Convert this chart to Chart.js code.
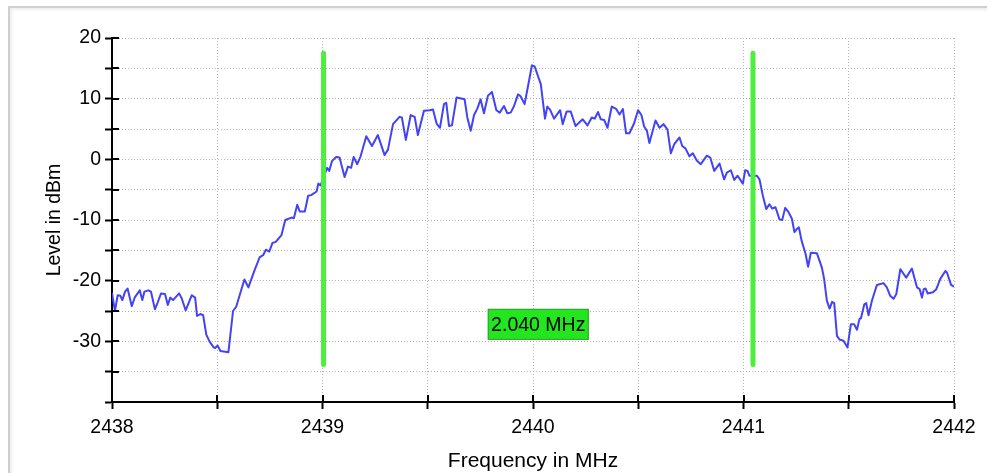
<!DOCTYPE html>
<html>
<head>
<meta charset="utf-8">
<script src="https://cdn.jsdelivr.net/npm/chart.js@4.4.0/dist/chart.umd.min.js"></script>
<style>
  html, body { margin: 0; padding: 0; background: #fff; overflow: hidden; }
  #wrap { position: relative; width: 987px; height: 473px; }
  #frame {
    position: absolute; left: 8px; top: 6px; width: 1000px; height: 500px;
    border-left: 2px solid #cfcfcf; border-top: 2px solid #cfcfcf;
    box-shadow: inset 2px 2px 3px #eeeeee;
  }
  #chart { position: absolute; left: 0; top: 0; }
</style>
</head>
<body>
<div id="wrap">
  <div id="frame"></div>
  <canvas id="chart" width="987" height="473"></canvas>
</div>
<script>
// ── data ──────────────────────────────────────────────────────────────────

const freqMHz = [
  2438.000, 2438.014, 2438.027, 2438.040, 2438.049, 2438.062, 2438.074, 2438.094,
  2438.109, 2438.132, 2438.144, 2438.154, 2438.173, 2438.185, 2438.204, 2438.217,
  2438.233, 2438.252, 2438.265, 2438.277, 2438.290, 2438.319, 2438.331, 2438.350,
  2438.379, 2438.395, 2438.404, 2438.420, 2438.433, 2438.448, 2438.463, 2438.483,
  2438.490, 2438.502, 2438.515, 2438.553, 2438.575, 2438.590, 2438.629, 2438.648,
  2438.677, 2438.702, 2438.718, 2438.731, 2438.747, 2438.762, 2438.778, 2438.805,
  2438.823, 2438.853, 2438.864, 2438.880, 2438.892, 2438.916, 2438.932, 2438.946,
  2438.972, 2438.980, 2438.991, 2439.022, 2439.032, 2439.045, 2439.065, 2439.081,
  2439.105, 2439.121, 2439.136, 2439.148, 2439.165, 2439.181, 2439.208, 2439.235,
  2439.263, 2439.295, 2439.311, 2439.335, 2439.366, 2439.377, 2439.396, 2439.419,
  2439.438, 2439.453, 2439.482, 2439.509, 2439.525, 2439.542, 2439.558, 2439.577,
  2439.588, 2439.601, 2439.615, 2439.637, 2439.675, 2439.688, 2439.704, 2439.720,
  2439.736, 2439.751, 2439.767, 2439.786, 2439.805, 2439.826, 2439.842, 2439.862,
  2439.878, 2439.894, 2439.910, 2439.929, 2439.941, 2439.960, 2439.976, 2439.995,
  2440.008, 2440.037, 2440.057, 2440.068, 2440.081, 2440.100, 2440.129, 2440.141,
  2440.160, 2440.179, 2440.202, 2440.236, 2440.259, 2440.279, 2440.293, 2440.309,
  2440.322, 2440.338, 2440.354, 2440.374, 2440.395, 2440.411, 2440.427, 2440.442,
  2440.458, 2440.480, 2440.499, 2440.515, 2440.528, 2440.541, 2440.553, 2440.582,
  2440.601, 2440.620, 2440.639, 2440.655, 2440.671, 2440.696, 2440.709, 2440.724,
  2440.743, 2440.759, 2440.778, 2440.797, 2440.826, 2440.842, 2440.861, 2440.886,
  2440.908, 2440.921, 2440.940, 2440.956, 2440.972, 2440.997, 2441.008, 2441.019,
  2441.028, 2441.044, 2441.063, 2441.076, 2441.092, 2441.108, 2441.123, 2441.136,
  2441.152, 2441.171, 2441.184, 2441.198, 2441.214, 2441.230, 2441.242, 2441.253,
  2441.263, 2441.276, 2441.295, 2441.307, 2441.320, 2441.349, 2441.372, 2441.383,
  2441.396, 2441.409, 2441.421, 2441.431, 2441.444, 2441.456, 2441.475, 2441.494,
  2441.510, 2441.526, 2441.539, 2441.551, 2441.558, 2441.574, 2441.583, 2441.594,
  2441.610, 2441.634, 2441.665, 2441.681, 2441.697, 2441.713, 2441.726, 2441.745,
  2441.761, 2441.773, 2441.800, 2441.824, 2441.837, 2441.848, 2441.856, 2441.865,
  2441.875, 2441.900, 2441.916, 2441.935, 2441.959, 2441.967, 2441.986, 2442.000
];

const levelDbm = [
  -22.0, -25.0, -22.4, -22.5, -23.2, -21.8, -21.3, -24.2,
  -22.7, -21.6, -23.2, -21.8, -21.6, -21.8, -24.7, -23.6,
  -22.1, -22.2, -24.0, -22.8, -23.2, -22.1, -22.9, -24.9,
  -22.4, -22.8, -25.8, -25.5, -25.7, -28.9, -30.0, -31.0,
  -31.1, -30.7, -31.6, -31.8, -25.0, -24.3, -19.8, -21.1,
  -18.3, -16.1, -15.8, -14.9, -15.2, -13.8, -13.6, -12.5,
  -10.0, -9.6, -9.7, -7.5, -8.6, -8.6, -6.0, -5.9,
  -5.3, -4.0, -4.3, -1.4, -1.9, -0.3, 0.4, 0.3,
  -2.9, -1.2, -1.4, 0.4, -0.8, 0.5, 3.8, 2.2,
  4.0, 0.7, 1.6, 5.8, 7.0, 6.9, 3.2, 7.3,
  7.0, 4.0, 8.0, 8.1, 8.2, 5.9, 5.2, 9.1,
  9.3, 5.5, 5.6, 10.2, 9.9, 6.9, 4.7, 7.3,
  8.4, 9.9, 7.6, 10.5, 11.1, 8.1, 7.7, 8.8,
  7.6, 7.7, 8.8, 10.7, 10.4, 9.1, 12.0, 15.5,
  15.3, 12.4, 6.7, 8.7, 8.2, 6.7, 8.1, 5.8,
  7.9, 7.9, 5.5, 6.6, 5.6, 6.9, 6.7, 7.8,
  6.6, 6.5, 5.2, 8.7, 8.3, 7.4, 8.3, 4.3,
  4.3, 5.9, 8.1, 7.3, 5.4, 4.7, 2.7, 6.4,
  5.2, 5.8, 4.9, 1.0, 2.5, 3.6, 2.2, 1.8,
  0.5, 1.0, -0.2, -0.8, 0.6, 0.3, -1.9, -0.7,
  -3.3, -2.2, -1.8, -3.4, -2.7, -4.0, -1.8, -1.9,
  -2.7, -2.7, -2.7, -3.3, -6.0, -8.2, -7.4, -8.1,
  -7.9, -9.9, -10.0, -8.0, -8.7, -9.8, -12.0, -11.5,
  -11.2, -13.4, -15.6, -17.7, -15.4, -15.5, -17.8, -19.7,
  -23.3, -24.6, -23.5, -23.7, -29.1, -29.7, -29.9, -31.0,
  -27.2, -27.2, -28.1, -26.3, -26.2, -23.9, -23.7, -25.7,
  -23.3, -20.7, -20.4, -21.1, -22.5, -23.0, -22.2, -18.1,
  -18.9, -19.5, -18.0, -21.1, -21.4, -22.8, -21.4, -21.3,
  -22.1, -21.9, -21.4, -19.7, -18.4, -18.7, -20.7, -21.0
];

// marker lines (MHz) and their vertical extent (dBm)
const markerFreqs = [2439.005, 2441.045];
const markerSpan = [-33.8, 17.5];
const markerLabelLevel = -27.2;

// ── chart ────────────────────────────────────────────────────────────────

const FONT = "'Liberation Sans', Arial, Helvetica, sans-serif";

const markerDatasets = markerFreqs.map((f) => ({
  data: markerSpan.map((y) => ({ x: f, y: y })),
  borderColor: "#4cef3c",
  borderWidth: 5,
  borderCapStyle: "round",
  pointRadius: 0,
}));

const traceDataset = {
  data: freqMHz.map((f, i) => ({ x: f, y: levelDbm[i] })),
  borderColor: "#4343f6",
  borderWidth: 2,
  borderJoinStyle: "round",
  pointRadius: 0,
  tension: 0,
};

// ticks cross the axis: Chart.js draws the outer half, this draws the inner half
const innerTicks = {
  id: "innerTicks",
  afterDraw(chart) {
    const { ctx, chartArea, scales } = chart;
    ctx.save();
    ctx.strokeStyle = "#000";
    ctx.lineWidth = 2;
    ctx.beginPath();
    scales.x.ticks.forEach((t) => {
      const px = Math.round(scales.x.getPixelForValue(t.value));
      ctx.moveTo(px, chartArea.bottom);
      ctx.lineTo(px, chartArea.bottom - 7);
    });
    scales.y.ticks.forEach((t) => {
      const py = Math.round(scales.y.getPixelForValue(t.value));
      ctx.moveTo(chartArea.left, py);
      ctx.lineTo(chartArea.left + 7, py);
    });
    ctx.stroke();

    // span label between the two markers
    const text = (markerFreqs[1] - markerFreqs[0]).toFixed(3) + " MHz";
    const cx = scales.x.getPixelForValue((markerFreqs[0] + markerFreqs[1]) / 2);
    const cy = scales.y.getPixelForValue(markerLabelLevel);
    const w = 101, h = 31;
    ctx.fillStyle = "#22e61e";
    ctx.fillRect(cx - w / 2, cy - h / 2, w, h);
    ctx.strokeStyle = "#3a9c34";
    ctx.lineWidth = 1;
    ctx.strokeRect(cx - w / 2 + 0.5, cy - h / 2 + 0.5, w - 1, h - 1);
    ctx.fillStyle = "#000";
    ctx.font = "19.5px " + FONT;
    ctx.textAlign = "center";
    ctx.textBaseline = "middle";
    ctx.fillText(text, cx, cy + 1);
    ctx.restore();
  },
};

const gridStyle = {
  color: "#b4b4b4",
  lineWidth: 1,
  tickColor: "#000",
  tickWidth: 2,
  tickLength: 7,
  tickBorderDash: [],
};

new Chart(document.getElementById("chart"), {
  type: "line",
  data: { datasets: [...markerDatasets, traceDataset] },
  plugins: [innerTicks],
  options: {
    responsive: false,
    animation: false,
    devicePixelRatio: 1,
    layout: { padding: { top: 38, right: 33, left: 0, bottom: 0 } },
    plugins: { legend: { display: false }, tooltip: { enabled: false } },
    scales: {
      x: {
        type: "linear",
        min: 2438,
        max: 2442,
        afterFit: (s) => { s.height = 71; },
        border: { color: "#000", width: 2, dash: [1, 2] },
        grid: gridStyle,
        ticks: {
          stepSize: 0.5,
          autoSkip: false,
          maxRotation: 0,
          padding: 7,
          color: "#000",
          font: { family: FONT, size: 19.5 },
          callback: (v) => (Number.isInteger(v) ? String(v) : ""),
        },
        title: {
          display: true,
          text: "Frequency in MHz",
          color: "#000",
          font: { family: FONT, size: 21, lineHeight: 1 },
          padding: { top: 0, bottom: 1 },
        },
      },
      y: {
        min: -40,
        max: 20,
        afterFit: (s) => { s.width = 112; },
        border: { color: "#000", width: 2, dash: [1, 2] },
        grid: gridStyle,
        ticks: {
          stepSize: 5,
          autoSkip: false,
          padding: 4,
          color: "#000",
          font: { family: FONT, size: 19.5 },
          callback: (v) => (v % 10 === 0 && v > -40 ? String(v) : ""),
        },
        title: {
          display: true,
          text: "Level in dBm",
          color: "#000",
          font: { family: FONT, size: 19.5, lineHeight: 1 },
          padding: { top: 45, bottom: 0 },
        },
      },
    },
  },
});
</script>
</body>
</html>
